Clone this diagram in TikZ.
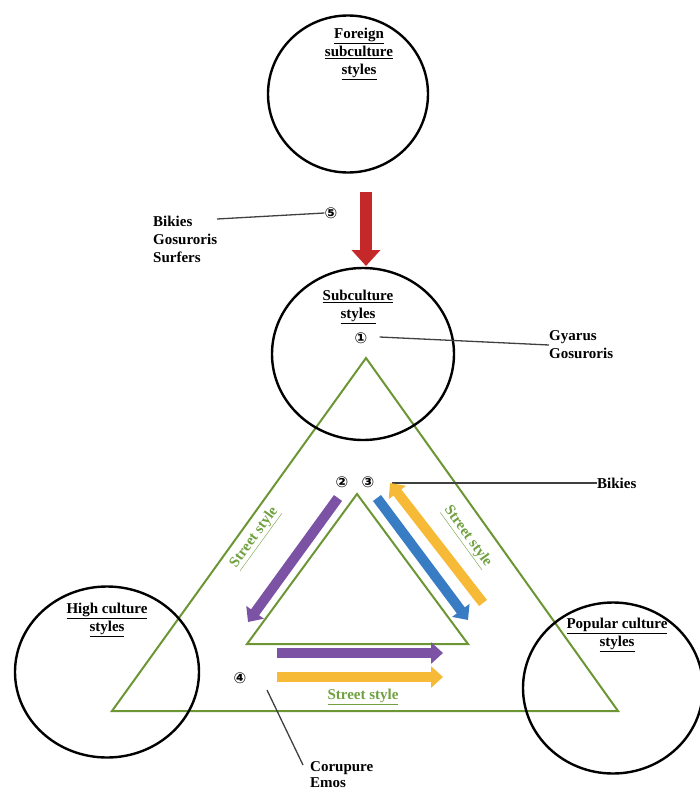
\documentclass[tikz,border=0pt]{standalone}
\usepackage{fontspec}
\setmainfont{Liberation Serif}
\newfontfamily\numfont{DejaVu Sans}
\usetikzlibrary{arrows.meta,shapes.geometric}
\definecolor{trigreen}{RGB}{108,150,52}
\definecolor{stgreen}{RGB}{112,160,64}
\definecolor{arpurple}{RGB}{124,82,164}
\definecolor{arblue}{RGB}{56,124,196}
\definecolor{aryellow}{RGB}{246,186,54}
\definecolor{arred}{RGB}{196,40,40}
\tikzset{
  culture/.style={draw,ellipse,line width=2.4pt,inner sep=0pt},
  lbl/.style={font=\fontsize{15}{18}\selectfont\bfseries,align=center,inner sep=0pt},
  names/.style={font=\fontsize{15}{18}\selectfont\bfseries,align=left,inner sep=0pt,anchor=west},
  street/.style={font=\fontsize{15}{18}\selectfont\bfseries,text=stgreen,inner sep=0pt},
  num/.style={font=\numfont\bfseries\fontsize{15}{15}\selectfont,inner sep=0pt},
  tri/.style={draw=trigreen,line width=2pt,line join=miter},
  fat/.style={line width=10pt,-{Triangle[length=12pt,width=21pt]}},
  tag/.style={draw=black!75,line width=1.3pt}
}
\begin{document}
\begin{tikzpicture}[x=1pt,y=-1pt]
\useasboundingbox (0,0) rectangle (700,792);
% triangles
\draw[tri] (366,358) coordinate (oT) -- (112,711) coordinate (oL) -- (618,711) coordinate (oR) -- cycle;
\draw[tri] (357,494) coordinate (iT) -- (247,644) coordinate (iL) -- (468,644) coordinate (iR) -- cycle;
% culture circles
\node[culture,minimum width=160pt,minimum height=157pt] (foreign) at (348,94) {};
\node[culture,minimum width=182pt,minimum height=172pt] (sub) at (363,354) {};
\node[culture,minimum width=184pt,minimum height=171pt] (high) at (107,672) {};
\node[culture,minimum width=180pt,minimum height=171pt] (pop) at (613,688) {};
\node[lbl] (foreigntxt) at (359,54) {\underline{Foreign}\\\underline{subculture}\\\underline{styles}};
\node[lbl] (subtxt) at (358,307) {\underline{Subculture}\\\underline{styles}};
\node[lbl] (hightxt) at (107,620) {\underline{High culture}\\\underline{styles}};
\node[lbl] (poptxt) at (617,635) {\underline{Popular culture}\\\underline{styles}};
% numbers
\node[num] (n5) at (331,213) {⑤};
\node[num] (n1) at (361,338) {①};
\node[num] (n2) at (342,482) {②};
\node[num] (n3) at (368,482) {③};
\node[num] (n4) at (240,678) {④};
% groups
\node[names] (foreignnames) at (153,239) {Bikies\\Gosuroris\\Surfers};
\node[names] (subnames) at (549,345) {Gyarus\\Gosuroris};
\node[names] (popnames) at (597,483) {Bikies};
\node[names,font=\fontsize{15}{16}\selectfont\bfseries] (emonames) at (310,775) {Corupure\\Emos};
% leader lines
\coordinate (c5) at (217,219);
\coordinate (c3) at (392,483);
\coordinate (c4a) at (267,690);
\coordinate (c4b) at (303,765);
\draw[tag] (c5) -- (n5.west);
\draw[tag] (n1.east) ++(12pt,1pt) -- (subnames.west);
\draw[tag] (c3) -- (popnames.west);
\draw[tag] (c4a) -- (c4b);
% street style
\node[street,rotate=54] (stleft) at (255,538) {\underline{Street style}};
\node[street,rotate=-54] (stright) at (467,537) {\underline{Street style}};
\node[street] (stbottom) at (363,697) {\underline{Street style}};
% arrows
\draw[arred,line width=12pt,-{Triangle[length=16pt,width=28pt]}] (366,192) coordinate (r0) -- (366,266) coordinate (r1);
\draw[fat,arpurple] (338,498) coordinate (p0) -- (248,622) coordinate (p1);
\draw[fat,arblue] (377,498) coordinate (b0) -- (468,620) coordinate (b1);
\draw[fat,aryellow] (483,603) coordinate (y0) -- (390,483) coordinate (y1);
\draw[fat,arpurple] (277,653) coordinate (h0) -- (443,653) coordinate (h1);
\draw[fat,aryellow] (277,677) coordinate (k0) -- (443,677) coordinate (k1);
\end{tikzpicture}
\end{document}
